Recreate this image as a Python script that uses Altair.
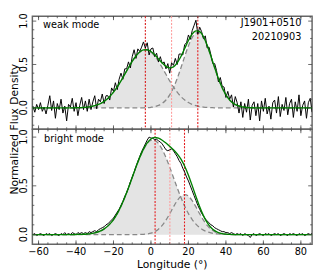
import altair as alt
import pandas as pd

# ---------------- data ----------------
prof_x = list(range(-63, 87))  # 1 deg samples

weak_profile = [
    0.02, -0.05, 0.04, -0.02, 0.06, -0.04, 0.01, -0.07, 0.03, 0.14,
    -0.03, 0.08, -0.12, 0.05, -0.02, 0.10, -0.06, 0.02, -0.15, 0.04,
    0.01, 0.11, -0.04, 0.06, -0.09, 0.03, 0.12, -0.02, 0.08, -0.04,
    0.10, -0.02, 0.07, 0.14, -0.01, 0.10, 0.07, 0.16, 0.05, 0.14,
    0.14, 0.09, 0.23, 0.19, 0.29, 0.21, 0.33, 0.40, 0.33, 0.45,
    0.45, 0.53, 0.46, 0.59, 0.67, 0.57, 0.68, 0.65, 0.70, 0.76,
    0.69, 0.75, 0.61, 0.68, 0.69, 0.59, 0.63, 0.53, 0.59, 0.51,
    0.53, 0.45, 0.51, 0.40, 0.52, 0.49, 0.57, 0.50, 0.62, 0.62,
    0.61, 0.73, 0.75, 0.84, 0.79, 0.89, 0.95, 1.01, 0.85, 0.93,
    0.88, 0.80, 0.83, 0.69, 0.70, 0.61, 0.51, 0.51, 0.43, 0.30,
    0.35, 0.25, 0.24, 0.12, 0.19, 0.10, 0.15, 0.01, 0.13, 0.06,
    -0.06, 0.07, -0.11, 0.05, -0.05, 0.10, -0.14, 0.03, 0.07, -0.09,
    0.05, -0.15, 0.08, -0.04, 0.11, -0.07, 0.02, -0.13, 0.06, 0.09,
    -0.06, 0.13, -0.10, 0.04, -0.03, 0.12, -0.08, 0.05, 0.10, -0.11,
    0.07, -0.04, 0.15, -0.09, 0.03, 0.08, -0.12, 0.06, 0.11, -0.05,
]

bright_profile = [
    0.00, 0.01, -0.01, 0.00, 0.01, 0.00, -0.01, 0.01, 0.00, 0.01,
    -0.01, 0.00, 0.01, 0.00, -0.01, 0.01, 0.00, 0.02, 0.00, 0.01,
    0.00, 0.02, 0.01, 0.00, 0.02, 0.01, 0.02, 0.01, 0.02, 0.01,
    0.03, 0.02, 0.03, 0.04, 0.03, 0.05, 0.06, 0.07, 0.08, 0.10,
    0.11, 0.13, 0.15, 0.17, 0.20, 0.23, 0.26, 0.30, 0.34, 0.39,
    0.43, 0.48, 0.54, 0.59, 0.64, 0.70, 0.75, 0.80, 0.85, 0.89,
    0.93, 0.97, 1.00, 0.99, 0.99, 0.97, 0.98, 0.96, 0.95, 0.93,
    0.90, 0.87, 0.86, 0.87, 0.88, 0.86, 0.83, 0.80, 0.76, 0.73,
    0.68, 0.64, 0.59, 0.55, 0.50, 0.45, 0.40, 0.35, 0.30, 0.26,
    0.22, 0.19, 0.16, 0.14, 0.12, 0.10, 0.09, 0.07, 0.06, 0.05,
    0.04, 0.03, 0.03, 0.02, 0.02, 0.01, 0.02, 0.01, 0.00, 0.01,
    0.00, 0.01, -0.01, 0.01, 0.00, -0.01, -0.03, 0.00, 0.01, -0.01,
    0.00, 0.01, 0.00, -0.01, 0.01, 0.00, 0.01, -0.01, 0.00, 0.01,
    0.00, 0.01, -0.01, 0.00, 0.01, 0.00, -0.01, 0.01, 0.00, 0.01,
    0.00, -0.01, 0.01, 0.00, 0.01, -0.01, 0.00, 0.01, 0.00, 0.01,
]

comp_x = list(range(-64, 88, 2))  # 2 deg samples of fitted components

weak_comp1 = [0.0] * 12 + [
    0.001, 0.003, 0.005, 0.009, 0.015, 0.025, 0.039, 0.061, 0.091, 0.130,
    0.181, 0.241, 0.311, 0.387, 0.464, 0.537, 0.598, 0.643, 0.667, 0.667,
    0.643, 0.598, 0.537, 0.464, 0.387, 0.311, 0.241, 0.181, 0.130, 0.091,
    0.061, 0.039, 0.025, 0.015, 0.009, 0.005, 0.003, 0.001,
] + [0.0] * 26

weak_comp2 = [0.0] * 30 + [
    0.001, 0.003, 0.007, 0.014, 0.028, 0.052, 0.091, 0.150, 0.232, 0.338,
    0.462, 0.593, 0.716, 0.811, 0.863, 0.863, 0.811, 0.716, 0.593, 0.462,
    0.338, 0.232, 0.150, 0.091, 0.052, 0.028, 0.014, 0.007, 0.003, 0.001,
] + [0.0] * 16

bright_comp1 = [0.0] * 12 + [
    0.001, 0.002, 0.003, 0.006, 0.010, 0.018, 0.029, 0.046, 0.072, 0.107,
    0.154, 0.215, 0.291, 0.380, 0.480, 0.586, 0.692, 0.791, 0.874, 0.934,
    0.966, 0.966, 0.934, 0.874, 0.791, 0.692, 0.586, 0.480, 0.380, 0.291,
    0.215, 0.154, 0.107, 0.072, 0.046, 0.029, 0.018, 0.010, 0.006, 0.003,
    0.002, 0.001,
] + [0.0] * 22

bright_comp2 = [0.0] * 29 + [
    0.001, 0.003, 0.007, 0.015, 0.030, 0.055, 0.094, 0.148, 0.213, 0.284,
    0.348, 0.394, 0.410, 0.394, 0.348, 0.284, 0.213, 0.148, 0.094, 0.055,
    0.030, 0.015, 0.007, 0.003, 0.001,
] + [0.0] * 22

weak_vlines = [-3.0, 11.0, 25.0]
weak_vcolors = ["#d81414", "#ff9a9a", "#e41a1c"]
bright_vlines = [2.2, 10.1, 17.9]
bright_vcolors = ["#e41a1c", "#ff9a9a", "#e41a1c"]

x_major = [-60, -40, -20, 0, 20, 40, 60, 80]
x_major_labels = ["\u221260", "\u221240", "\u221220", "0", "20", "40", "60", "80"]
x_minor = list(range(-60, 86, 5))
y_major = [0.0, 0.5, 1.0]
y_major_labels = ["0.0", "0.5", "1.0"]
y_minor_weak = [-0.2, -0.1, 0.1, 0.2, 0.3, 0.4, 0.6, 0.7, 0.8, 0.9]
y_minor_bright = [0.1, 0.2, 0.3, 0.4, 0.6, 0.7, 0.8, 0.9]

x_domain = [-63.3, 86.0]
weak_ydomain = [-0.247, 1.056]
bright_ydomain = [-0.1, 1.08]

weak_texts = ["weak mode", "J1901+0510", "20210903"]
bright_texts = ["bright mode"]
y_title = "Normalized Flux Density"
x_title = "Longitude (°)"

W = 287
H_TOP, H_BOT = 116, 118
FONT = "DejaVu Sans"


def panel(profile, c1, c2, vlines, vcolors, ydom, yminor, show_x, texts, ytitle, H):
    xs = alt.Scale(domain=x_domain, nice=False, zero=False)
    ys = alt.Scale(domain=ydom, nice=False, zero=False)
    comp = pd.DataFrame({"x": comp_x, "c1": c1, "c2": c2})
    comp["fit"] = comp["c1"] + comp["c2"]
    prof = pd.DataFrame({"x": prof_x, "y": profile})

    X = lambda f: alt.X(f, type="quantitative", scale=xs, axis=None)
    Y = lambda f: alt.Y(f, type="quantitative", scale=ys, axis=None)

    area1 = alt.Chart(comp).mark_area(color="#e4e4e4", clip=True).encode(
        x=X("x"), y=Y("c1"), y2=alt.datum(0))
    area2 = alt.Chart(comp).mark_area(color="#e4e4e4", clip=True).encode(
        x=X("x"), y=Y("c2"), y2=alt.datum(0))
    dash1 = alt.Chart(comp).mark_line(color="#888888", strokeDash=[5, 3],
                                      strokeWidth=1.3, clip=True,
                                      interpolate="monotone").encode(x=X("x"), y=Y("c1"))
    dash2 = alt.Chart(comp).mark_line(color="#888888", strokeDash=[5, 3],
                                      strokeWidth=1.3, clip=True,
                                      interpolate="monotone").encode(x=X("x"), y=Y("c2"))
    vdf = pd.DataFrame({"x": vlines, "c": vcolors})
    vl = alt.Chart(vdf).mark_rule(strokeDash=[2, 1.5], strokeWidth=1.1).encode(
        x=X("x"), color=alt.Color("c:N", scale=None))
    black = alt.Chart(prof).mark_line(color="black", strokeWidth=1, clip=True).encode(
        x=X("x"), y=Y("y"))
    green = alt.Chart(comp).mark_line(color="#008000", strokeWidth=1.4, clip=True,
                                      interpolate="monotone").encode(x=X("x"), y=Y("fit"))

    tick_color = "#444444"
    xmaj = pd.DataFrame({"x": x_major, "t": x_major_labels})
    xmin = pd.DataFrame({"x": x_minor})
    ymaj = pd.DataFrame({"y": y_major, "t": y_major_labels})
    ymin = pd.DataFrame({"y": yminor})
    ticks = []
    for df, ln in ((xmaj, 4), (xmin, 2)):
        ticks.append(alt.Chart(df).mark_rule(color=tick_color, strokeWidth=0.8).encode(
            x=X("x"), y=alt.value(0), y2=alt.value(ln)))
        ticks.append(alt.Chart(df).mark_rule(color=tick_color, strokeWidth=0.8).encode(
            x=X("x"), y=alt.value(H), y2=alt.value(H - ln)))
    for df, ln in ((ymaj, 4), (ymin, 2)):
        ticks.append(alt.Chart(df).mark_rule(color=tick_color, strokeWidth=0.8).encode(
            y=Y("y"), x=alt.value(0), x2=alt.value(ln)))
        ticks.append(alt.Chart(df).mark_rule(color=tick_color, strokeWidth=0.8).encode(
            y=Y("y"), x=alt.value(W), x2=alt.value(W - ln)))

    # tick labels and titles as text
    labels = []
    labels.append(alt.Chart(ymaj).mark_text(
        angle=270, align="center", baseline="middle", font=FONT, fontSize=10,
        color="black").encode(y=Y("y"), x=alt.value(-9), text="t:N"))
    if show_x:
        labels.append(alt.Chart(xmaj).mark_text(
            align="center", baseline="top", font=FONT, fontSize=10,
            color="black").encode(x=X("x"), y=alt.value(H + 3), text="t:N"))
        labels.append(alt.Chart(pd.DataFrame({"t": [x_title]})).mark_text(
            align="center", baseline="top", font=FONT, fontSize=11,
            color="black").encode(x=alt.value(W / 2), y=alt.value(H + 15), text="t:N"))
    if ytitle:
        labels.append(alt.Chart(pd.DataFrame({"t": [ytitle]})).mark_text(
            angle=270, align="center", baseline="middle", font=FONT, fontSize=11,
            color="black").encode(x=alt.value(-18), y=alt.value(H), text="t:N"))

    txt = []
    if len(texts) == 3:
        txt.append(alt.Chart(pd.DataFrame({"t": [texts[0]]})).mark_text(
            align="left", baseline="middle", font=FONT, fontSize=10, color="black").encode(
            text="t:N", x=alt.value(11), y=alt.value(9)))
        txt.append(alt.Chart(pd.DataFrame({"t": [texts[1]]})).mark_text(
            align="right", baseline="middle", font=FONT, fontSize=10, color="black").encode(
            text="t:N", x=alt.value(276), y=alt.value(7)))
        txt.append(alt.Chart(pd.DataFrame({"t": [texts[2]]})).mark_text(
            align="right", baseline="middle", font=FONT, fontSize=10, color="black").encode(
            text="t:N", x=alt.value(276), y=alt.value(21)))
    else:
        txt.append(alt.Chart(pd.DataFrame({"t": [texts[0]]})).mark_text(
            align="left", baseline="middle", font=FONT, fontSize=10, color="black").encode(
            text="t:N", x=alt.value(12), y=alt.value(10)))

    return alt.layer(area1, area2, dash1, dash2, vl, black, green,
                     *ticks, *labels, *txt).properties(width=W, height=H)


top = panel(weak_profile, weak_comp1, weak_comp2, weak_vlines, weak_vcolors,
            weak_ydomain, y_minor_weak, False, weak_texts, y_title, H_TOP)
bottom = panel(bright_profile, bright_comp1, bright_comp2, bright_vlines, bright_vcolors,
               bright_ydomain, y_minor_bright, True, bright_texts, None, H_BOT)

chart = alt.vconcat(top, bottom, spacing=0, bounds="flush").properties(
    padding={"left": 0, "top": 1, "right": 2, "bottom": 0}
).configure_view(stroke="#666666", strokeWidth=1.5)

chart.save("out.html", embed_options={"renderer": "svg", "actions": False})
